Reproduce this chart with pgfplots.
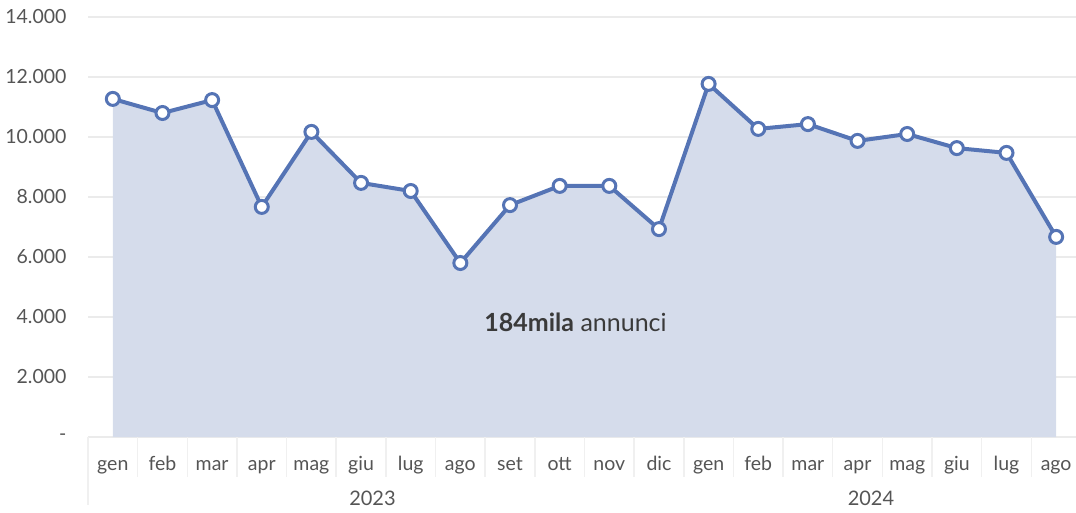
\documentclass[border=0pt]{standalone}
\usepackage{pgfplots}
\pgfplotsset{compat=1.18}
\usepackage{pgfplotstable}
\usepackage{fontspec}
\setmainfont{Lato}
\definecolor{linec}{HTML}{5574B5}
\definecolor{fillc}{HTML}{D5DCEB}
\definecolor{gridc}{HTML}{EBEBEB}
\definecolor{sepc}{HTML}{F0F0F0}
\definecolor{txt}{HTML}{555555}
\definecolor{anno}{HTML}{3A3A3A}

\pgfplotstableread{
x y
0 11270
1 10800
2 11230
3 7670
4 10170
5 8470
6 8200
7 5800
8 7730
9 8370
10 8370
11 6930
12 11770
13 10270
14 10430
15 9870
16 10100
17 9630
18 9470
19 6670
}\data

\begin{document}
\begin{tikzpicture}[x=1pt,y=1pt]
\begin{axis}[
  at={(0,0)}, anchor=south west,
  scale only axis, width=988pt, height=420pt,
  xmin=-0.5, xmax=19.4, ymin=0, ymax=14000,
  clip=false,
  scaled y ticks=false,
  axis line style={draw=none},
  major tick length=0pt,
  ymajorgrids, grid style={gridc, line width=1.3pt},
  ytick={0,2000,4000,6000,8000,10000,12000,14000},
  yticklabels={-,2.000,4.000,6.000,8.000,10.000,12.000,14.000},
  xtick={0,...,19},
  xticklabels={gen,feb,mar,apr,mag,giu,lug,ago,set,ott,nov,dic,gen,feb,mar,apr,mag,giu,lug,ago},
  tick label style={font=\fontsize{19.5}{22}\selectfont, text=txt},
  yticklabel style={anchor=east, xshift=-18pt},
  xticklabel style={anchor=base, yshift=-33pt},
]
\addplot[fill=fillc, draw=none] table[x=x,y=y]{\data} \closedcycle;
\pgfplotsinvokeforeach{0.5,1.5,2.5,3.5,4.5,5.5,6.5,7.5,8.5,9.5,10.5,11.5,12.5,13.5,14.5,15.5,16.5,17.5,18.5}{
  \draw[sepc, line width=1.5pt] (axis cs:#1,0) -- ++(0pt,-40pt);
}
\draw[sepc, line width=1.5pt] (axis cs:-0.5,0) -- ++(0pt,-68pt);
\addplot[linec, line width=4pt, mark=*, mark size=6.5pt,
  mark options={fill=white, draw=linec, line width=3pt}] table[x=x,y=y]{\data};
\node[anchor=base, font=\fontsize{20}{24}\selectfont, text=txt] at ([yshift=-68pt]axis cs:5.23,0) {2023};
\node[anchor=base, font=\fontsize{20}{24}\selectfont, text=txt] at ([yshift=-68pt]axis cs:15.27,0) {2024};
\node[font=\fontsize{25}{28}\selectfont, text=anno] at (axis cs:9.32,3830) {\textbf{184mila} annunci};
\end{axis}
\pgfresetboundingbox
\path[use as bounding box] (-88,-75) rectangle (988,437);
\end{tikzpicture}
\end{document}
